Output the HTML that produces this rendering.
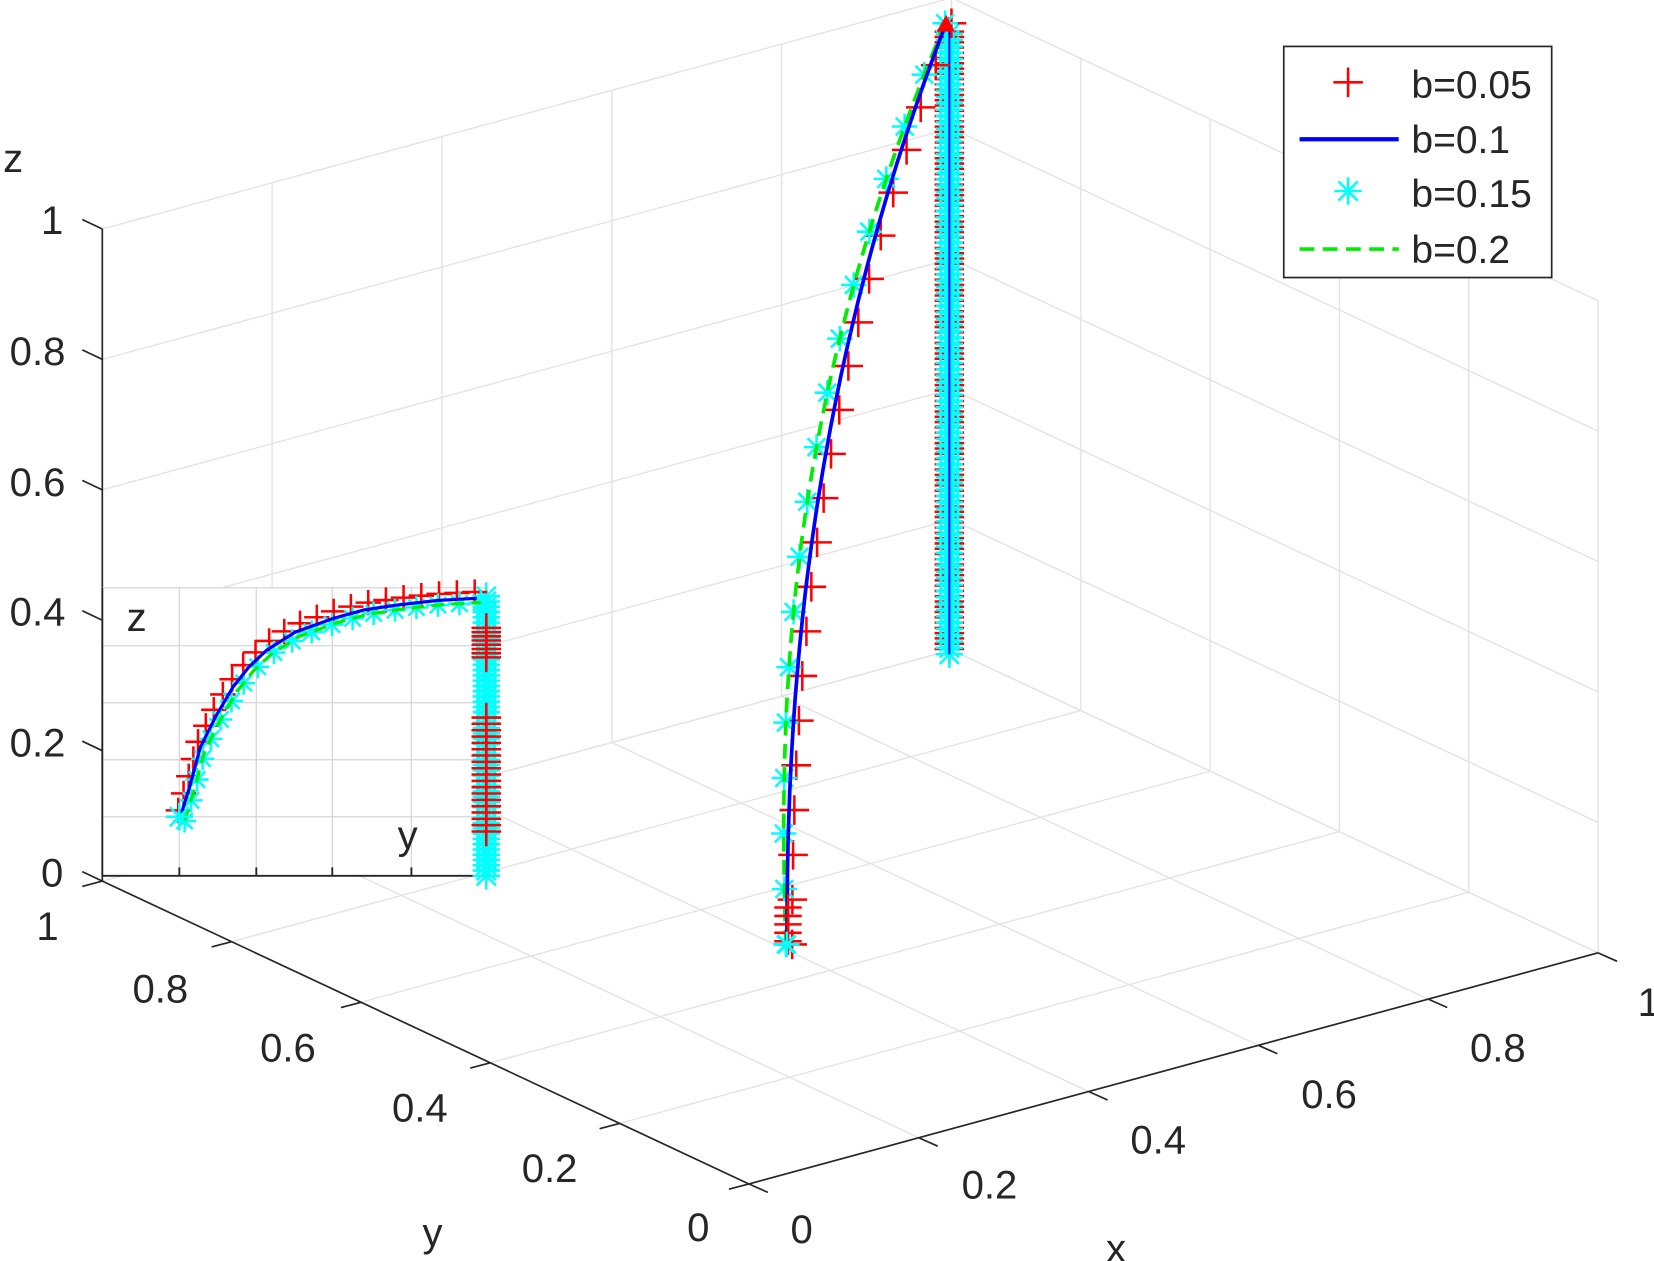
<!DOCTYPE html>
<html><head><meta charset="utf-8"><style>
html,body{margin:0;padding:0;background:#fff}
svg{display:block}
text{font-family:"Liberation Sans",Arial,sans-serif;fill:#262626}
</style></head><body>
<svg id="s" width="1654" height="1261" viewBox="0 0 1568 1195" preserveAspectRatio="none" xmlns="http://www.w3.org/2000/svg">
<g id="grid" stroke="#e3e3e3" stroke-width="1.3" fill="none"></g>
<g id="axes" stroke="#262626" stroke-width="1.6" fill="none"></g>
<g id="main"></g>
<g id="inset"></g>
<g font-size="38">
<text x="60" y="222" text-anchor="end">1</text>
<text x="62" y="346" text-anchor="end">0.8</text>
<text x="62" y="470" text-anchor="end">0.6</text>
<text x="62" y="593" text-anchor="end">0.4</text>
<text x="62" y="717" text-anchor="end">0.2</text>
<text x="60" y="840" text-anchor="end">0</text>
<text x="3" y="163">z</text>
<text x="45" y="891" text-anchor="middle">1</text>
<text x="152" y="950" text-anchor="middle">0.8</text>
<text x="273" y="1006" text-anchor="middle">0.6</text>
<text x="398" y="1063" text-anchor="middle">0.4</text>
<text x="521" y="1120" text-anchor="middle">0.2</text>
<text x="662" y="1176" text-anchor="middle">0</text>
<text x="410" y="1181" text-anchor="middle">y</text>
<text x="760" y="1178" text-anchor="middle">0</text>
<text x="938" y="1136" text-anchor="middle">0.2</text>
<text x="1098" y="1093" text-anchor="middle">0.4</text>
<text x="1260" y="1050" text-anchor="middle">0.6</text>
<text x="1420" y="1006" text-anchor="middle">0.8</text>
<text x="1563" y="963" text-anchor="middle">1</text>
<text x="1058" y="1196" text-anchor="middle">x</text>
</g>
<g id="legend">
<rect x="1217" y="44" width="254" height="219" fill="#fff" stroke="#262626" stroke-width="1.6"/>
<g font-size="37">
<text x="1338" y="93">b=0.05</text>
<text x="1338" y="145">b=0.1</text>
<text x="1338" y="196">b=0.15</text>
<text x="1338" y="249">b=0.2</text>
</g>
<line x1="1232" y1="132" x2="1326" y2="132" stroke="#0000ff" stroke-width="4"/>
<line x1="1232" y1="236" x2="1326" y2="236" stroke="#00ee00" stroke-width="3.5" stroke-dasharray="14,8"/>
</g>
</svg>
<script>
var NS="http://www.w3.org/2000/svg";
function el(p,t,a){var e=document.createElementNS(NS,t);for(var k in a)e.setAttribute(k,a[k]);p.appendChild(e);return e;}
var O=[710,1122],X=[805,-219],Y=[-613,-287],Z=[0,-618];
function P(x,y,z){return [O[0]+X[0]*x+Y[0]*y+Z[0]*z,O[1]+X[1]*x+Y[1]*y+Z[1]*z];}
var g=document.getElementById('grid'),a=document.getElementById('axes');
function L(p,q,par){el(par,'line',{x1:p[0],y1:p[1],x2:q[0],y2:q[1]});}
for(var i=0;i<=5;i++){var t=i/5;
 L(P(t,1,0),P(t,1,1),g); L(P(0,1,t),P(1,1,t),g);
 L(P(1,t,0),P(1,t,1),g); L(P(1,0,t),P(1,1,t),g);
 L(P(t,0,0),P(t,1,0),g); L(P(0,t,0),P(1,t,0),g);
}
L(P(0,1,0),P(0,1,1),a); L(P(0,0,0),P(0,1,0),a); L(P(0,0,0),P(1,0,0),a);
for(var i=0;i<=5;i++){var t=i/5,p;
 p=P(0,1,t);L(p,[p[0]-19,p[1]-9],a);
 p=P(0,t,0);L(p,[p[0]-19,p[1]+5],a);
 p=P(t,0,0);L(p,[p[0]+18,p[1]+8],a);
}
function plus(par,x,y,s){el(par,'path',{d:'M'+(x-s)+' '+y+'H'+(x+s)+'M'+x+' '+(y-s)+'V'+(y+s),stroke:'#ff0000','stroke-width':2.4,fill:'none'});}
function star(par,x,y,s){var d='M'+(x-s)+' '+y+'H'+(x+s)+'M'+x+' '+(y-s)+'V'+(y+s);var k=s*0.7;d+='M'+(x-k)+' '+(y-k)+'L'+(x+k)+' '+(y+k)+'M'+(x-k)+' '+(y+k)+'L'+(x+k)+' '+(y-k);el(par,'path',{d:d,stroke:'#00ffff','stroke-width':2.4,fill:'none'});}
function interp(pts,n){var out=[],len=[0];for(var i=1;i<pts.length;i++)len.push(len[i-1]+Math.hypot(pts[i][0]-pts[i-1][0],pts[i][1]-pts[i-1][1]));var T=len[len.length-1];for(var j=0;j<n;j++){var d=T*j/(n-1),i=1;while(i<len.length-1&&len[i]<d)i++;var f=(d-len[i-1])/(len[i]-len[i-1]||1);out.push([pts[i-1][0]+f*(pts[i][0]-pts[i-1][0]),pts[i-1][1]+f*(pts[i][1]-pts[i-1][1])]);}return out;}
function pstr(p){return p.map(function(q){return q[0].toFixed(1)+','+q[1].toFixed(1)}).join(' ');}
var m=document.getElementById('main');
// smooth main curve: x as function of t
var curve=[];for(var i=0;i<=60;i++){var t=i/60;var y=895-873*t;var x=746+151*Math.pow(t,2.2)*0.6+151*0.4*Math.pow(t,1.3)*t;curve.push([x,y]);}
curve[60]=[897,22];
var green=curve.map(function(p,i){var t=i/60;return [p[0]-9*Math.sin(Math.PI*t)-1,p[1]];});
for(var y=30;y<=615;y+=5){plus(m,900,y,14);}
for(var y=32;y<=620;y+=6){star(m,900,y,13);}
el(m,'line',{x1:900,y1:25,x2:900,y2:620,stroke:'#0000ff','stroke-width':2});
interp(curve.map(function(p){return [p[0]+5,p[1]]}),22).forEach(function(q){plus(m,q[0],q[1],14);});
interp(green,18).forEach(function(q){star(m,q[0],q[1],12);});
el(m,'polyline',{points:pstr(green),fill:'none',stroke:'#00ee00','stroke-width':3.5,'stroke-dasharray':'14,8'});
el(m,'polyline',{points:pstr(curve),fill:'none',stroke:'#0000ff','stroke-width':3.5});
for(var y=860;y<=892;y+=8){plus(m,747,y,13);}
star(m,746,895,12);
el(m,'path',{d:'M888 30 L897 14 L905 30 Z',fill:'#ff0000'});
var ins=document.getElementById('inset');
el(ins,'rect',{x:97,y:557,width:364,height:272,fill:'#fff'});
var ig=el(ins,'g',{stroke:'#d6d6d6','stroke-width':1.2});
[170,243,315,390].forEach(function(x){L([x,557],[x,829],ig);});
[557,612,666,720,774].forEach(function(y){L([97,y],[461,y],ig);});
var ia=el(ins,'g',{stroke:'#262626','stroke-width':1.8});
L([97,557],[97,830],ia);L([97,830],[455,830],ia);
[170,243,315,390].forEach(function(x){L([x,822],[x,830],ia);});
el(ins,'text',{x:120,y:598,'font-size':38}).textContent='z';
el(ins,'text',{x:377,y:804,'font-size':38}).textContent='y';
var ic=[[171,774],[180,745],[190,708],[205,678],[221,651],[236,632],[253,616],[280,599],[316,586],[345,578],[379,573],[415,569],[452,567]];
var icg=ic.map(function(p,i){return [p[0]+4,p[1]+4];});
for(var y=565;y<=828;y+=5){star(ins,461,y,13);}
for(var y=595;y<=625;y+=4){plus(ins,461,y,14);}
for(var y=680;y<=790;y+=6){plus(ins,461,y,14);}
interp(ic,24).forEach(function(q){plus(ins,q[0]-2,q[1]-6,12);});
interp(icg,20).forEach(function(q){star(ins,q[0],q[1],11);});
el(ins,'polyline',{points:pstr(icg),fill:'none',stroke:'#00ee00','stroke-width':3,'stroke-dasharray':'12,7'});
el(ins,'polyline',{points:pstr(ic),fill:'none',stroke:'#0000ff','stroke-width':3});
star(ins,170,774,13);star(ins,461,830,13);
var lg=document.getElementById('legend');
plus(lg,1278,78,14);star(lg,1278,181,13);
</script>
</body></html>
